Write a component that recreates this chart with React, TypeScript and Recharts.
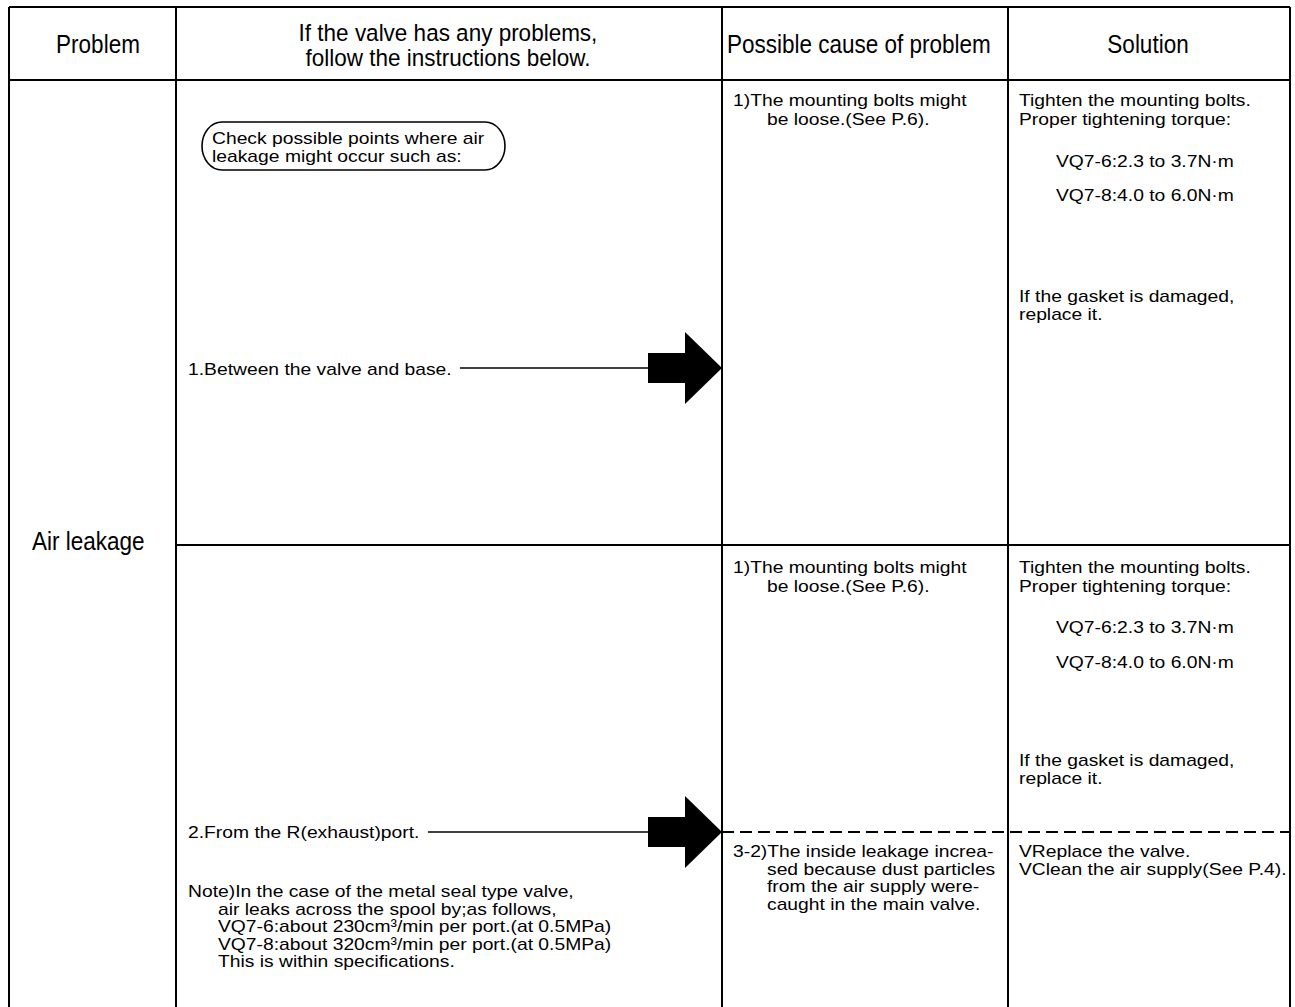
import { ComposedChart, ReferenceArea, ReferenceLine, Scatter, XAxis, YAxis } from 'recharts';

// Table content (troubleshooting sheet: air leakage)
const headerProblem = 'Problem';
const headerInstructions = ['If the valve has any problems,', 'follow the instructions below.'];
const headerCause = 'Possible cause of problem';
const headerSolution = 'Solution';
const problemLabel = 'Air leakage';

const checkNote = ['Check possible points where air', 'leakage might occur such as:'];
const leakPoints = ['1.Between the valve and base.', '2.From the R(exhaust)port.'];
const metalSealNote = [
  'Note)In the case of the metal seal type valve,',
  'air leaks across the spool by;as follows,',
  'VQ7-6:about 230cm³/min per port.(at 0.5MPa)',
  'VQ7-8:about 320cm³/min per port.(at 0.5MPa)',
  'This is within specifications.',
];

const boltCause = ['1)The mounting bolts might', 'be loose.(See P.6).'];
const boltSolution = ['Tighten the mounting bolts.', 'Proper tightening torque:'];
const torqueSpecs = ['VQ7-6:2.3 to 3.7N·m', 'VQ7-8:4.0 to 6.0N·m'];
const gasketSolution = ['If the gasket is damaged,', 'replace it.'];
const dustCause = [
  '3-2)The inside leakage increa-',
  'sed because dust particles',
  'from the air supply were-',
  'caught in the main valve.',
];
const dustSolution = ['VReplace the valve.', 'VClean the air supply(See P.4).'];

// --- layout (page pixels, mapped through the chart's scales) ---
const W = 1295;
const H = 1007;
const FONT = "'Liberation Sans', Arial, Helvetica, sans-serif";

const TEXT_STYLES: Record<string, { size: number; vs: number }> = {
  header: { size: 22.5, vs: 1.13 },
  subheader: { size: 22.5, vs: 1.06 },
  body: { size: 19.3, vs: 0.88 },
};

type Block = {
  lines: string[];
  x: number;
  y: number;
  gap?: number;
  indent?: number;
  anchor?: 'start' | 'middle';
  kind?: 'header' | 'subheader' | 'body';
};

const blocks: Block[] = [
  { lines: [headerProblem], x: 98, y: 53, anchor: 'middle', kind: 'header' },
  { lines: headerInstructions, x: 448, y: 41, gap: 25, anchor: 'middle', kind: 'subheader' },
  { lines: [headerCause], x: 727, y: 53, kind: 'header' },
  { lines: [headerSolution], x: 1148, y: 53, anchor: 'middle', kind: 'header' },
  { lines: [problemLabel], x: 32, y: 550, kind: 'header' },
  { lines: checkNote, x: 212, y: 144, gap: 17.5 },
  { lines: [leakPoints[0]], x: 188, y: 375 },
  { lines: [leakPoints[1]], x: 188, y: 838 },
  { lines: metalSealNote, x: 188, y: 897, gap: 17.5, indent: 30 },
  { lines: boltCause, x: 733, y: 106, gap: 19, indent: 34 },
  { lines: boltSolution, x: 1019, y: 106, gap: 18.5 },
  { lines: torqueSpecs, x: 1056, y: 167, gap: 34 },
  { lines: gasketSolution, x: 1019, y: 302, gap: 18 },
  { lines: boltCause, x: 733, y: 573, gap: 19, indent: 34 },
  { lines: boltSolution, x: 1019, y: 573, gap: 18.5 },
  { lines: torqueSpecs, x: 1056, y: 633, gap: 35 },
  { lines: gasketSolution, x: 1019, y: 766, gap: 18 },
  { lines: dustCause, x: 733, y: 857, gap: 17.7, indent: 34 },
  { lines: dustSolution, x: 1019, y: 857, gap: 18 },
];

const textData = blocks.flatMap((b) =>
  b.lines.map((text, i) => ({
    x: b.x + (i > 0 ? b.indent ?? 0 : 0),
    y: b.y + i * (b.gap ?? 0),
    text,
    anchor: b.anchor ?? 'start',
    kind: b.kind ?? 'body',
  }))
);

const gridLines = [
  { x1: 9, y1: 7, x2: 1290, y2: 7 },
  { x1: 9, y1: 80, x2: 1290, y2: 80 },
  { x1: 9, y1: 7, x2: 9, y2: H },
  { x1: 176, y1: 7, x2: 176, y2: H },
  { x1: 722, y1: 7, x2: 722, y2: H },
  { x1: 1008, y1: 7, x2: 1008, y2: H },
  { x1: 1290, y1: 7, x2: 1290, y2: H },
  { x1: 176, y1: 545, x2: 1290, y2: 545 },
];

// leader lines from the text to the block arrows
const leaderLines = [
  { x1: 460, y1: 368, x2: 650, y2: 368 },
  { x1: 428, y1: 832, x2: 650, y2: 832 },
];

const arrowTips = [
  { x: 722, y: 368 },
  { x: 722, y: 832 },
];

function TextMark(props: any) {
  const { cx, cy, payload } = props;
  const st = TEXT_STYLES[payload.kind];
  return (
    <text
      transform={`translate(${cx},${cy}) scale(1,${st.vs})`}
      fontSize={st.size}
      fontFamily={FONT}
      textAnchor={payload.anchor}
      fill="#000"
    >
      {payload.text}
    </text>
  );
}

// big block arrow pointing right, tip at (cx, cy)
function ArrowMark(props: any) {
  const { cx, cy } = props;
  const pts = [
    [cx - 74, cy - 15],
    [cx - 37, cy - 15],
    [cx - 37, cy - 36],
    [cx, cy],
    [cx - 37, cy + 36],
    [cx - 37, cy + 15],
    [cx - 74, cy + 15],
  ]
    .map((p) => p.join(','))
    .join(' ');
  return <polygon points={pts} fill="#000" />;
}

export default function App() {
  return (
    <div style={{ position: 'absolute', left: 0, top: 0, background: '#fff' }}>
      <ComposedChart width={W} height={H} margin={{ top: 0, right: 0, bottom: 0, left: 0 }}>
        <XAxis type="number" dataKey="x" domain={[0, W]} hide />
        <YAxis type="number" dataKey="y" domain={[0, H]} reversed hide />
        {gridLines.map((l, i) => (
          <ReferenceLine
            key={`g${i}`}
            segment={[
              { x: l.x1, y: l.y1 },
              { x: l.x2, y: l.y2 },
            ]}
            stroke="#000"
            strokeWidth={2}
            ifOverflow="visible"
          />
        ))}
        <ReferenceLine
          segment={[
            { x: 722, y: 832 },
            { x: 1290, y: 832 },
          ]}
          stroke="#000"
          strokeWidth={1.8}
          strokeDasharray="12 6"
          ifOverflow="visible"
        />
        {leaderLines.map((l, i) => (
          <ReferenceLine
            key={`l${i}`}
            segment={[
              { x: l.x1, y: l.y1 },
              { x: l.x2, y: l.y2 },
            ]}
            stroke="#000"
            strokeWidth={1.5}
            ifOverflow="visible"
          />
        ))}
        <ReferenceArea
          x1={202}
          x2={505}
          y1={122}
          y2={170}
          ifOverflow="visible"
          shape={(p: any) => (
            <rect
              x={p.x}
              y={p.y}
              width={p.width}
              height={p.height}
              rx={20}
              ry={24}
              fill="none"
              stroke="#000"
              strokeWidth={1.6}
            />
          )}
        />
        <Scatter data={arrowTips} shape={ArrowMark} isAnimationActive={false} />
        <Scatter data={textData} shape={TextMark} isAnimationActive={false} />
      </ComposedChart>
    </div>
  );
}
